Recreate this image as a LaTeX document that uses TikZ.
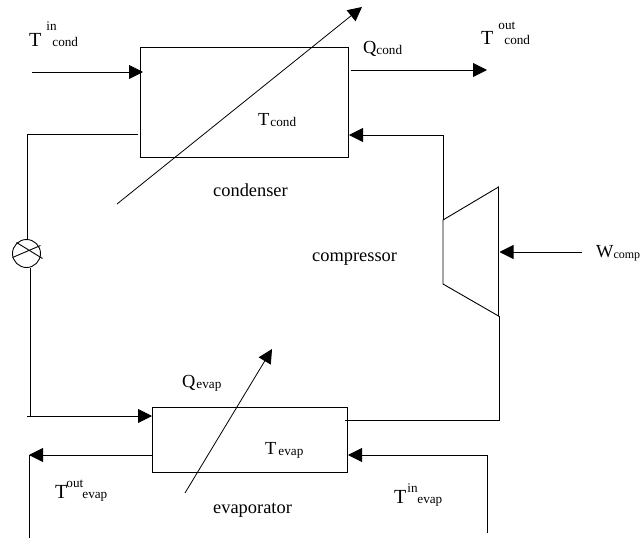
\documentclass[tikz,border=0pt]{standalone}
\usepackage{fontspec}
\setmainfont{Liberation Serif}
\usetikzlibrary{arrows.meta}
\newcommand{\bigsize}{\fontsize{18.4}{20}\selectfont}
\newcommand{\subsize}{\fontsize{13.2}{14}\selectfont}
\newcommand{\sublabel}[3]{{\bigsize #1}\hspace{#3}\raisebox{-1pt}{\subsize #2}}
\newcommand{\templabel}[5]{{\fontsize{20}{20}\selectfont T}\makebox[0pt][l]{\hspace{#2}\raisebox{#3}{\subsize #1}}\hspace{#5}{\subsize #4}}
\begin{document}
\begin{tikzpicture}[x=1pt,y=-1pt,
  box/.style={draw=black,line width=.9pt,outer sep=0pt,inner sep=0pt},
  pipe/.style={draw=black,line width=.9pt},
  flow/.style={pipe,-{Triangle[length=14pt,width=14pt]}},
  heat/.style={flow,line width=.8pt},
  lbl/.style={anchor=base west,inner sep=0pt,font=\bigsize}
]
\useasboundingbox (0,0) rectangle (641,538);
\node[box,minimum width=208pt,minimum height=110pt] (condenser) at (244,102) {};
\node[box,minimum width=195pt,minimum height=65pt] (evaporator) at (249.5,439.5) {};
\node[box,circle,minimum size=28pt] (valve) at (26.5,253.5) {};
\coordinate (compNW) at (443,220);
\coordinate (compNE) at (498.5,187);
\coordinate (compSE) at (498.5,316);
\coordinate (compSW) at (443,284);
\draw[pipe] (compNW) -- (compNE) -- (compSE) -- (compSW) -- cycle;
\coordinate (tinstart) at (32,72);
\coordinate (qoutstart) at (351,70);
\coordinate (qoutend) at (487,70);
\coordinate (wstart) at (582,252);
\coordinate (leftbend) at (27,134);
\coordinate (compbend) at (443,135);
\coordinate (evapin) at (30,416);
\coordinate (evapinstart) at (27,416);
\coordinate (outbend) at (29,455);
\coordinate (outend) at (29,538);
\coordinate (inbend) at (487,455);
\coordinate (inend) at (487,533);
\coordinate (rightbend) at (499,420);
\coordinate (condheatstart) at (117,204);
\coordinate (condheatend) at (362,7);
\coordinate (evapheatstart) at (185,493);
\coordinate (evapheatend) at (272,349);
\draw[flow] (tinstart) -- ([xshift=3pt]condenser.west |- tinstart);
\draw[flow] (qoutstart) -- (qoutend);
\draw[heat] (condheatstart) -- (condheatend);
\draw[heat] (evapheatstart) -- (evapheatend);
\draw[pipe] ([xshift=-2pt]condenser.west |- leftbend) -- (leftbend) -- (leftbend |- valve.north);
\draw[pipe] ([shift={(-14,4)}]valve.center) -- ([shift={(14,-8)}]valve.center);
\draw[pipe] ([shift={(-10,-11)}]valve.center) -- ([shift={(16,5)}]valve.center);
\draw[pipe] ([xshift=3.5pt]valve.south) -- (evapin);
\draw[flow] (evapinstart) -- (evaporator.west |- evapinstart);
\draw[flow] (evaporator.west |- outbend) -- (outbend);
\draw[pipe] (outbend) -- (outend);
\draw[pipe] (inend) -- (inbend);
\draw[flow] (inbend) -- ([xshift=1pt]evaporator.east |- inbend);
\draw[pipe] ([xshift=-2pt]evaporator.east |- rightbend) -- (rightbend) -- (rightbend |- compSE);
\draw[pipe] (compNW) -- (compbend);
\draw[flow] (compbend) -- ([xshift=1pt]condenser.east |- compbend);
\draw[flow] (wstart) -- ([xshift=1pt]compNE |- wstart);
\node[lbl] (tcondin) at (29,46) {\templabel{in}{5pt}{16pt}{cond}{11pt}};
\node[lbl] (tcondout) at (481,45) {\templabel{out}{5pt}{16pt}{cond}{11pt}};
\node[lbl] (tevapout) at (55,498) {\templabel{out}{-1pt}{11pt}{evap}{15pt}};
\node[lbl] (tevapin) at (394,503) {\templabel{in}{1pt}{11pt}{evap}{11pt}};
\node[lbl] (tcond) at (258,125) {\sublabel{T}{cond}{1pt}};
\node[lbl] (tevap) at (265,454) {\sublabel{T}{evap}{2pt}};
\node[lbl] (qcond) at (363,53) {\sublabel{Q}{cond}{0pt}};
\node[lbl] (qevap) at (182,387) {\sublabel{Q}{evap}{1pt}};
\node[lbl] (wcomp) at (596,257) {{\bigsize W}\raisebox{-1pt}{\fontsize{12}{14}\selectfont comp}};
\node[lbl] (condname) at (213,196) {condenser};
\node[lbl] (compname) at (312,261) {compressor};
\node[lbl] (evapname) at (213,513) {evaporator};
\end{tikzpicture}
\end{document}
